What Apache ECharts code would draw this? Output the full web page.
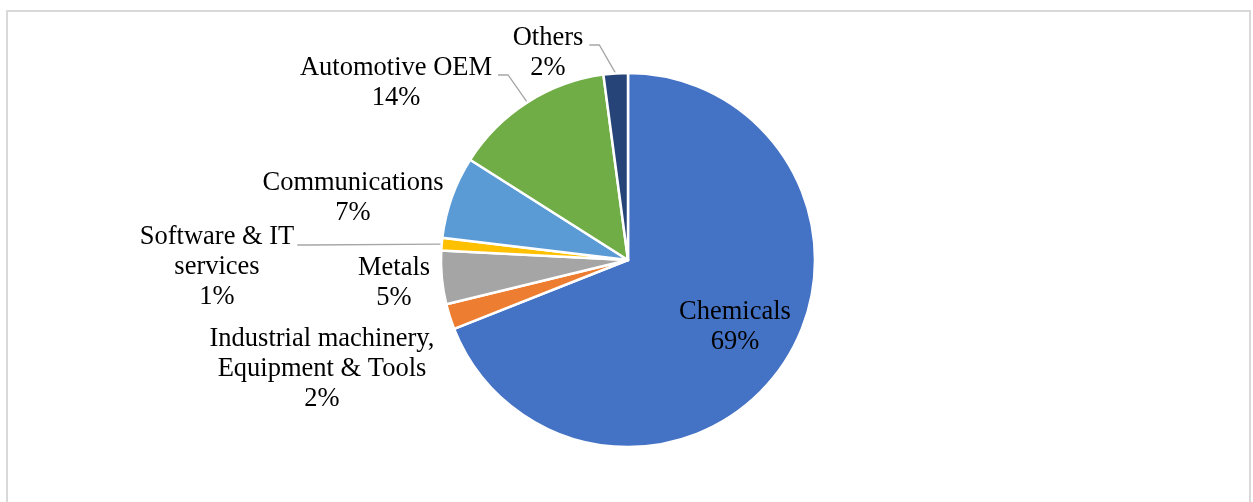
<!DOCTYPE html>
<html>
<head>
<meta charset="utf-8">
<script src="https://cdn.jsdelivr.net/npm/echarts@6/dist/echarts.min.js"></script>
<style>
html,body{margin:0;padding:0;background:#fff;}
#chart{width:1253px;height:502px;}
</style>
</head>
<body>
<div id="chart"></div>
<script>
// Data (clockwise from 12 o'clock)
const categories = [
  'Chemicals',
  'Industrial machinery,\nEquipment & Tools',
  'Metals',
  'Software & IT\nservices',
  'Communications',
  'Automotive OEM',
  'Others'
];
const shares = [69.0, 2.2, 4.6, 1.1, 7.1, 13.9, 2.1];
const colors = ['#4472C4', '#ED7D31', '#A5A5A5', '#FFC000', '#5B9BD5', '#70AD47', '#264478'];
const showLeader = [false, false, false, true, false, true, true];
// label text-block centres and leader anchor tweaks (layout only)
const labelPos = [[735, 327], [322, 369], [394, 283], [217, 267], [353, 198], [396, 83], [548, 53]];
const leaderLift = [0, 0, 0, 44, 0, 16, 16];
const leaderGap = [0, 0, 0, 3, 0, 6, 6];

const FONT_SIZE = 26.5;
const FONT_FAMILY = 'Liberation Serif, Times New Roman, serif';
const mctx = document.createElement('canvas').getContext('2d');
mctx.font = FONT_SIZE + 'px ' + FONT_FAMILY;
function blockWidth(name) {
  return Math.max.apply(null, name.split('\n').map(s => mctx.measureText(s).width));
}

const rich = {};
leaderLift.forEach((h, i) => {
  if (h > 0) rich['sp' + i] = {lineHeight: h, height: h, fontSize: 1, width: blockWidth(categories[i]) + 2 * leaderGap[i]};
});

const chart = echarts.init(document.getElementById('chart'), null, {renderer: 'canvas'});
const option = {
  animation: false,
  backgroundColor: '#ffffff',
  graphic: [{
    type: 'rect',
    shape: {x: 7, y: 11, width: 1243, height: 520},
    style: {fill: 'none', stroke: '#d9d9d9', lineWidth: 2},
    silent: true,
    z: 0
  }],
  series: [{
    type: 'pie',
    center: [628, 260],
    radius: [0, 187],
    startAngle: 90,
    clockwise: true,
    avoidLabelOverlap: false,
    itemStyle: {borderColor: '#ffffff', borderWidth: 2.5},
    label: {
      show: true,
      position: 'outside',
      fontFamily: FONT_FAMILY,
      fontSize: FONT_SIZE,
      lineHeight: 30,
      color: '#000000',
      align: 'center',
      rich: rich,
      formatter: p => {
        const i = p.dataIndex;
        const txt = p.name + '\n' + Math.round(p.percent) + '%';
        return leaderLift[i] > 0 ? '{sp' + i + '| }\n' + txt : txt;
      }
    },
    labelLine: {show: false, length: 10, length2: 10, lineStyle: {color: '#a6a6a6', width: 1.3}, smooth: false},
    labelLayout: function (params) {
      const i = params.dataIndex;
      const pos = labelPos[i];
      return {
        x: pos[0],
        y: pos[1] - leaderLift[i] / 2,
        align: 'center', verticalAlign: 'middle', hideOverlap: false
      };
    },
    data: categories.map((name, i) => ({
      name: name,
      value: shares[i],
      itemStyle: {color: colors[i]},
      label: {position: i === 0 ? 'inside' : 'outside'},
      labelLine: {show: showLeader[i]}
    }))
  }]
};
chart.setOption(option);
</script>
</body>
</html>
